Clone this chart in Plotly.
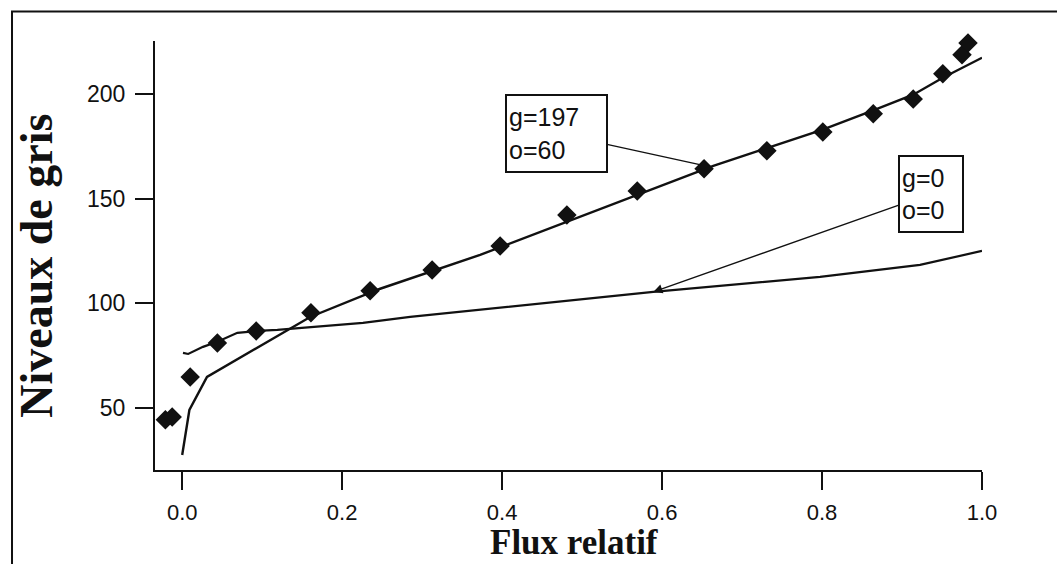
import plotly.graph_objects as go

# Measured points (diamonds)
meas_x = [-0.021, -0.0125, 0.010, 0.044, 0.0925, 0.161, 0.235, 0.3125, 0.3975, 0.481,
          0.569, 0.6525, 0.731, 0.801, 0.864, 0.914, 0.951, 0.975, 0.9825]
meas_y = [44.3, 45.7, 64.8, 81.1, 86.8, 95.5, 106.0, 116.0, 127.5, 142.3,
          153.8, 164.4, 173.0, 182.0, 190.7, 197.8, 209.8, 218.9, 224.6]

# Curve g=197, o=60
fit_x = [0.0, 0.009, 0.031, 0.11, 0.16, 0.2475, 0.3725, 0.664, 0.80, 0.864, 0.914, 0.951, 1.0]
fit_y = [27.5, 49.0, 64.8, 82.5, 93.5, 107.0, 123.2, 165.8, 183.0, 192.3, 199.8, 207.9, 217.5]

# Curve g=0, o=0
raw_x = [0.001, 0.0075, 0.026, 0.044, 0.069, 0.094, 0.119, 0.169, 0.226, 0.285, 0.3725,
         0.589, 0.7975, 0.9225, 1.0]
raw_y = [76.3, 75.8, 79.2, 81.6, 85.9, 86.8, 87.3, 88.8, 90.7, 93.5, 96.9,
         105.5, 112.7, 118.4, 125.1]

x_ticks = [0.0, 0.2, 0.4, 0.6, 0.8, 1.0]
x_ticktext = ["0.0", "0.2", "0.4", "0.6", "0.8", "1.0"]
y_ticks = [50, 100, 150, 200]
y_ticktext = ["50", "100", "150", "200"]

label_fit = "g=197<br>o=60"
label_raw = "g=0<br>o=0"
x_title = "Flux relatif"
y_title = "Niveaux de gris"

INK = "#111111"
SANS = "Liberation Sans, Arial, Helvetica, sans-serif"
SERIF = "Liberation Serif, Times New Roman, serif"

fig = go.Figure()
fig.add_trace(go.Scatter(x=fit_x, y=fit_y, mode="lines",
                         line=dict(color=INK, width=2.4), showlegend=False,
                         hoverinfo="skip"))
fig.add_trace(go.Scatter(x=raw_x, y=raw_y, mode="lines",
                         line=dict(color=INK, width=2.2), showlegend=False,
                         hoverinfo="skip"))
fig.add_trace(go.Scatter(x=meas_x, y=meas_y, mode="markers",
                         marker=dict(symbol="diamond", size=15, color=INK,
                                     line=dict(width=0)),
                         cliponaxis=False, showlegend=False))

common_ann = dict(xref="x", yref="y", axref="x", ayref="y", showarrow=True,
                  arrowhead=2, arrowsize=1.3, arrowwidth=1.4, arrowcolor=INK,
                  bgcolor="white", bordercolor=INK, borderwidth=2, borderpad=2,
                  align="left", valign="middle",
                  font=dict(family=SANS, size=25, color=INK))

fig.add_annotation(text=label_fit, x=0.66, y=165.3, ax=0.468, ay=181.3,
                   width=95, height=71, **common_ann)
fig.add_annotation(text=label_raw, x=0.589, y=105.5, ax=0.936, ay=152.4,
                   width=58, height=70, **common_ann)

# axis titles placed as paper annotations for exact position
fig.add_annotation(text=x_title, xref="paper", yref="paper", x=0.507, y=-0.2168,
                   xanchor="center", yanchor="bottom", showarrow=False, borderpad=0,
                   font=dict(family=SERIF, size=35, color=INK, weight="bold"))
fig.add_annotation(text=y_title, xref="paper", yref="paper", x=-0.1427, y=0.476,
                   xanchor="center", yanchor="middle", textangle=-90,
                   showarrow=False, borderpad=0,
                   font=dict(family=SERIF, size=46, color=INK, weight="bold"))

# outer frame
fig.add_shape(type="rect", xref="paper", yref="paper",
              x0=-0.1729, x1=1.3, y0=-0.5, y1=1.0688,
              line=dict(color=INK, width=2), fillcolor="rgba(0,0,0,0)", layer="below")

fig.update_layout(
    width=1057, height=564,
    margin=dict(l=155, r=75, t=41, b=94, autoexpand=False),
    paper_bgcolor="white", plot_bgcolor="white",
    font=dict(family=SANS, color=INK),
    showlegend=False,
    xaxis=dict(range=[-0.034, 1.0], tickvals=x_ticks, ticktext=x_ticktext,
               automargin=False,
               showline=True, linewidth=2, linecolor=INK,
               ticks="outside", ticklen=18, tickwidth=2, tickcolor=INK,
               ticklabelstandoff=4,
               showgrid=False, zeroline=False,
               tickfont=dict(family=SANS, size=22, color=INK)),
    yaxis=dict(range=[20.3, 225.5], tickvals=y_ticks, ticktext=y_ticktext,
               automargin=False,
               showline=True, linewidth=2, linecolor=INK,
               ticks="outside", ticklen=18, tickwidth=2, tickcolor=INK,
               ticklabelstandoff=5,
               showgrid=False, zeroline=False,
               tickfont=dict(family=SANS, size=23, color=INK)),
)

fig.write_html("out.html", config={"displayModeBar": False},
               post_script="document.body.style.margin='0';document.body.style.overflow='hidden';")
